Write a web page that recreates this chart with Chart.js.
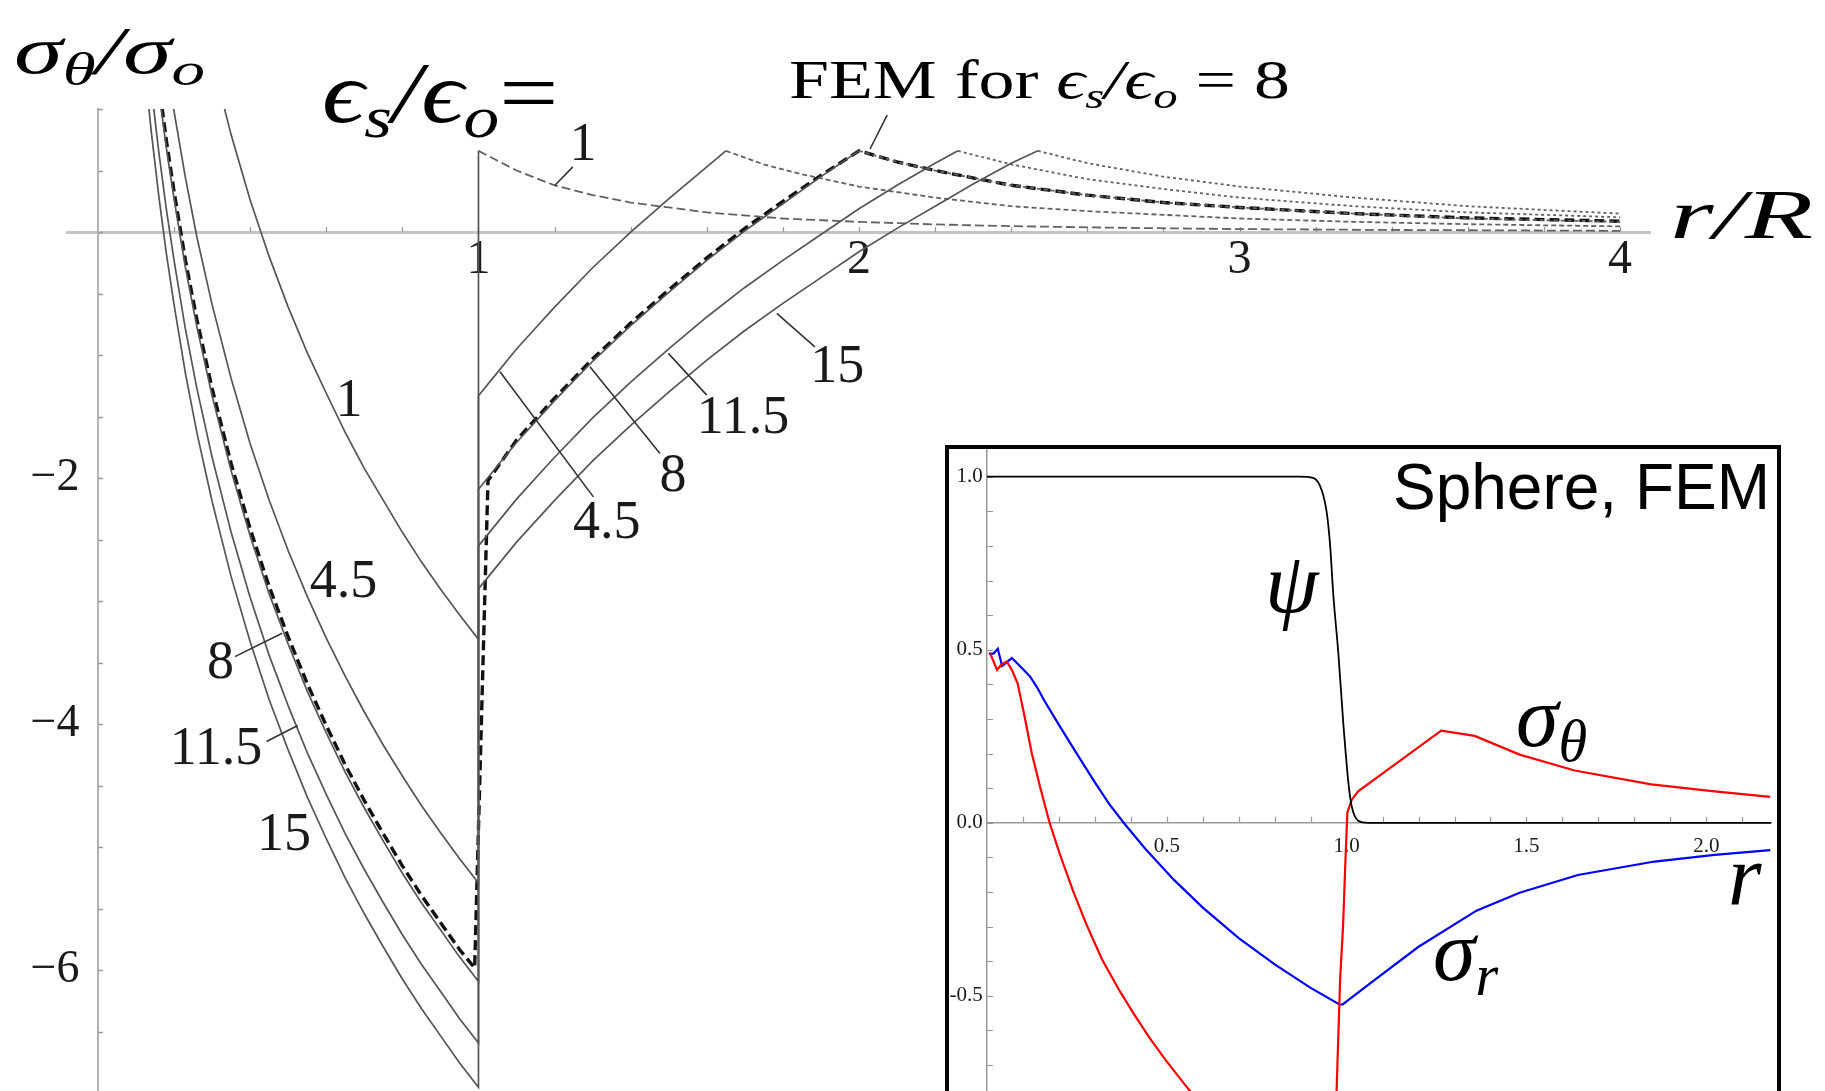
<!DOCTYPE html>
<html><head><meta charset="utf-8">
<script src="https://cdn.jsdelivr.net/npm/chart.js@4.4.1/dist/chart.umd.min.js"></script>
<style>
html,body{margin:0;padding:0;background:#fff;}
body{position:relative;width:1825px;height:1091px;overflow:hidden;}
#main{position:absolute;left:0;top:0;}
#insetBox{position:absolute;left:945px;top:445px;width:828px;height:700px;border:4px solid #000;background:#fff;}
#inset{position:absolute;left:0;top:0;}
.m{position:absolute;font-family:"Liberation Serif","DejaVu Serif",serif;font-style:italic;color:#000;white-space:nowrap;line-height:1;transform-origin:0 0;}
.m sub{font-size:0.68em;vertical-align:baseline;position:relative;top:0.26em;}
.rm{font-style:normal;}
.sans{position:absolute;font-family:"Liberation Sans",Arial,sans-serif;color:#000;white-space:nowrap;line-height:1;}
</style></head>
<body>
<canvas id="main" width="1825" height="1091"></canvas>
<div id="insetBox"><canvas id="inset" width="828" height="642"></canvas></div>

<div class="m" style="left:14px;top:16px;font-size:68px;transform:scaleX(1.45)">σ<sub>θ</sub>/σ<sub>o</sub></div>
<div class="m" style="left:322px;top:50px;font-size:86px;transform:scaleX(1.22)">ϵ<sub>s</sub>/ϵ<sub>o</sub><span class="rm">=</span></div>
<div class="m" style="left:789px;top:53px;font-size:54px;transform:scaleX(1.33)"><span class="rm">FEM for </span>ϵ<sub>s</sub>/ϵ<sub>o</sub><span class="rm"> = 8</span></div>
<div class="m" style="left:1670px;top:180px;font-size:70px;transform:scaleX(1.6)">r/R</div>

<div class="sans" style="right:55px;top:455px;font-size:64px;">Sphere, FEM</div>
<div class="m" style="left:1265px;top:540px;font-size:86px;">ψ</div>
<div class="m" style="left:1516px;top:674px;font-size:86px;">σ<sub>θ</sub></div>
<div class="m" style="left:1433px;top:908px;font-size:86px;">σ<sub>r</sub></div>
<div class="m" style="left:1728px;top:833px;font-size:86px;">r</div>

<script>
// ---------------- main chart data (r/R, sigma_theta/sigma_o) ----------------
const rInner   = [0.12,0.14,0.16,0.18,0.20,0.23,0.26,0.30,0.35,0.40,0.45,0.50,0.55,0.60,0.65,0.70,0.75,0.80,0.85,0.90,0.95,1.00];
const inner_1   = [null,null,null,null,null,null,null,1.40,0.79,0.26,-0.20,-0.61,-0.98,-1.31,-1.63,-1.92,-2.18,-2.44,-2.68,-2.90,-3.11,-3.31];
const inner_4_5 = [null,null,1.85,1.39,0.98,0.44,-0.04,-0.59,-1.19,-1.72,-2.18,-2.59,-2.96,-3.30,-3.61,-3.90,-4.17,-4.42,-4.66,-4.88,-5.09,-5.29];
const inner_8   = [null,1.68,1.15,0.68,0.27,-0.29,-0.77,-1.33,-1.94,-2.47,-2.94,-3.35,-3.73,-4.07,-4.39,-4.68,-4.95,-5.21,-5.45,-5.67,-5.89,-6.09];
const inner_11_5= [1.79,1.18,0.65,0.18,-0.23,-0.79,-1.27,-1.83,-2.44,-2.97,-3.44,-3.85,-4.23,-4.57,-4.89,-5.18,-5.45,-5.71,-5.95,-6.17,-6.39,-6.59];
const inner_15  = [1.43,0.82,0.29,-0.18,-0.59,-1.15,-1.63,-2.19,-2.80,-3.33,-3.80,-4.21,-4.59,-4.93,-5.25,-5.54,-5.81,-6.07,-6.31,-6.53,-6.75,-6.95];

const rRise_4_5  = [1.00,1.05,1.10,1.15,1.20,1.30,1.40,1.50,1.60,1.65];
const rise_4_5   = [-1.33,-1.14,-0.95,-0.78,-0.61,-0.29,0.00,0.27,0.53,0.66];
const rRise_8    = [1.0,1.1,1.2,1.3,1.4,1.5,1.6,1.7,1.8,1.9,2.0];
const rise_8     = [-2.09,-1.71,-1.37,-1.05,-0.76,-0.49,-0.23,0.01,0.23,0.45,0.66];
const rRise_11_5 = [1.0,1.1,1.2,1.3,1.4,1.5,1.6,1.7,1.8,1.9,2.0,2.1,2.2,2.26];
const rise_11_5  = [-2.55,-2.17,-1.83,-1.51,-1.22,-0.95,-0.69,-0.45,-0.23,-0.02,0.19,0.38,0.56,0.66];
const rRise_15   = [1.0,1.1,1.2,1.3,1.4,1.5,1.6,1.7,1.8,1.9,2.0,2.1,2.2,2.3,2.4,2.47];
const rise_15    = [-2.90,-2.52,-2.18,-1.86,-1.57,-1.30,-1.04,-0.80,-0.58,-0.37,-0.16,0.03,0.21,0.39,0.56,0.66];

const rTail_1    = [1.0,1.1,1.2,1.3,1.4,1.5,1.6,1.8,2.0,2.2,2.4,2.7,3.0,3.4,4.0];
const tail_1     = [0.66,0.50,0.38,0.30,0.24,0.20,0.16,0.11,0.083,0.062,0.048,0.034,0.024,0.017,0.010];
const rTail_4_5  = [1.65,1.75,1.85,2.0,2.2,2.4,2.6,2.8,3.0,3.3,3.6,4.0];
const tail_4_5   = [0.66,0.55,0.47,0.37,0.28,0.21,0.17,0.14,0.11,0.083,0.064,0.046];
const rTail_8    = [2.0,2.1,2.2,2.4,2.6,2.8,3.0,3.3,3.6,4.0];
const tail_8     = [0.66,0.57,0.50,0.38,0.30,0.24,0.20,0.15,0.11,0.083];
const rTail_11_5 = [2.26,2.4,2.6,2.8,3.0,3.3,3.6,4.0];
const tail_11_5  = [0.66,0.55,0.43,0.35,0.28,0.21,0.16,0.12];
const rTail_15   = [2.47,2.6,2.8,3.0,3.3,3.6,4.0];
const tail_15    = [0.66,0.56,0.45,0.37,0.28,0.21,0.15];

// FEM result for eps_s/eps_o = 8 (dashed)
const rFem = [0.14,0.16,0.18,0.20,0.23,0.26,0.30,0.35,0.40,0.45,0.50,0.55,0.60,0.65,0.70,0.75,0.80,0.85,0.90,0.95,0.99,1.025,1.1,1.2,1.3,1.4,1.5,1.6,1.7,1.8,1.9,2.0,2.1,2.2,2.4,2.6,2.8,3.0,3.3,3.6,4.0];
const fem  = [1.74,1.21,0.74,0.33,-0.23,-0.71,-1.27,-1.88,-2.41,-2.88,-3.29,-3.67,-4.01,-4.33,-4.62,-4.89,-5.15,-5.39,-5.61,-5.83,-5.98,-2.02,-1.69,-1.35,-1.03,-0.74,-0.47,-0.21,0.03,0.25,0.46,0.66,0.57,0.50,0.38,0.30,0.24,0.20,0.15,0.115,0.088];

const xTickValues = [1,2,3,4];
const xTickLabels = ['1','2','3','4'];
const yTickValues = [-2,-4,-6];
const yTickLabels = ['\u22122','\u22124','\u22126'];

// ---------------- inset data (Sphere, FEM) ----------------
const rPsi = [0,0.3,0.6,0.866,0.908,0.931,0.945,0.954,0.963,0.977,0.991,1.005,1.014,1.032,1.06,1.5,2.18];
const psi  = [1,1,1,1,0.996,0.96,0.894,0.803,0.658,0.489,0.284,0.115,0.048,0.006,0,0,0];
const rSigTheta = [0.009,0.028,0.039,0.055,0.069,0.085,0.102,0.125,0.148,0.174,0.203,0.240,0.277,0.320,0.370,0.410,0.453,0.500,0.559,0.65,0.80,0.92,0.965,0.972,0.982,0.990,0.997,1.002,1.014,1.032,1.143,1.263,1.356,1.481,1.634,1.847,2.023,2.178];
const sigTheta  = [0.489,0.442,0.456,0.466,0.442,0.403,0.320,0.199,0.102,0.0,-0.092,-0.199,-0.295,-0.395,-0.488,-0.555,-0.623,-0.690,-0.768,-0.88,-1.05,-1.17,-1.2,-0.777,-0.45,-0.30,-0.10,0.03,0.066,0.091,0.175,0.266,0.251,0.197,0.151,0.111,0.091,0.075];
const rSigR = [0.005,0.018,0.030,0.042,0.069,0.097,0.120,0.140,0.160,0.200,0.250,0.300,0.340,0.380,0.440,0.520,0.600,0.700,0.800,0.900,0.980,0.989,1.079,1.199,1.361,1.481,1.643,1.856,2.023,2.178];
const sigR  = [0.489,0.489,0.503,0.453,0.476,0.447,0.422,0.390,0.352,0.283,0.199,0.117,0.054,0.0,-0.075,-0.165,-0.245,-0.333,-0.409,-0.477,-0.525,-0.525,-0.453,-0.359,-0.254,-0.202,-0.151,-0.112,-0.093,-0.079];
const insetXTickValues = [0.5,1.0,1.5,2.0];
const insetXTickLabels = ['0.5','1.0','1.5','2.0'];
const insetYTickValues = [1.0,0.5,0.0,-0.5];
const insetYTickLabels = ['1.0','0.5','0.0','-0.5'];

// ---------------- helpers ----------------
function pts(xs, ys){ const out=[]; xs.forEach((x,i)=>{ if(ys[i]!==null) out.push({x:x,y:ys[i]}); }); return out; }
function steps(a,b,s){ const out=[]; for(let v=a; v<=b+1e-9; v+=s) out.push(+v.toFixed(3)); return out; }

const SOLID = '#555555';
const TAIL = '#626262';
function solid(data){ return {data, borderColor:SOLID, borderWidth:1.7, pointRadius:0, showLine:true, tension:0}; }
function tail(data, dash){ return {data, borderColor:TAIL, borderWidth:1.8, borderDash:dash, pointRadius:0, showLine:true, tension:0}; }

const mainDatasets = [
  solid(pts(rInner, inner_1)),
  solid(pts(rInner, inner_4_5).concat(pts(rRise_4_5, rise_4_5))),
  solid(pts(rInner, inner_8).concat(pts(rRise_8, rise_8))),
  solid(pts(rInner, inner_11_5).concat(pts(rRise_11_5, rise_11_5))),
  solid(pts(rInner, inner_15).concat(pts(rRise_15, rise_15))),
  solid([{x:1,y:inner_1[inner_1.length-1]},{x:1,y:tail_1[0]}]),
  tail(pts(rTail_1, tail_1), [9,4]),
  tail(pts(rTail_4_5, tail_4_5), [5,3]),
  tail(pts(rTail_8, tail_8), [4,3]),
  tail(pts(rTail_11_5, tail_11_5), [3,3]),
  tail(pts(rTail_15, tail_15), [3,3]),
  {data: pts(rFem, fem), borderColor:'#111', borderWidth:3.4, borderDash:[10,5], pointRadius:0, showLine:true, tension:0}
];

// ---------------- plugins ----------------
const minorTicks = {
  id:'minorTicks',
  beforeDatasetsDraw(chart, args, o){
    const {ctx, scales:{x,y}} = chart;
    const x0 = x.getPixelForValue(0), y0 = y.getPixelForValue(0);
    ctx.save(); ctx.strokeStyle=o.color; ctx.lineWidth=o.width; ctx.beginPath();
    o.xTicks.forEach(v=>{ const px=Math.round(x.getPixelForValue(v))+0.5; ctx.moveTo(px,y0); ctx.lineTo(px,y0-o.len); });
    o.yTicks.forEach(v=>{ const py=Math.round(y.getPixelForValue(v))+0.5; ctx.moveTo(x0,py); ctx.lineTo(x0+o.len,py); });
    ctx.stroke(); ctx.restore();
  }
};
const curveNotes = {
  id:'curveNotes',
  afterDatasetsDraw(chart, args, o){
    if(!o.labels) return;
    const {ctx, scales:{x,y}} = chart;
    ctx.save();
    ctx.strokeStyle=o.lineColor; ctx.lineWidth=o.lineWidth; ctx.beginPath();
    o.leaders.forEach(l=>{ ctx.moveTo(x.getPixelForValue(l[0]), y.getPixelForValue(l[1])); ctx.lineTo(x.getPixelForValue(l[2]), y.getPixelForValue(l[3])); });
    ctx.stroke();
    ctx.fillStyle=o.color; ctx.font=o.font; ctx.textAlign='center'; ctx.textBaseline='middle';
    o.labels.forEach(l=>ctx.fillText(l.t, x.getPixelForValue(l.r), y.getPixelForValue(l.v)));
    ctx.restore();
  }
};

const curveLabels = [
  {t:'1', r:0.660, v:-1.38}, {t:'4.5', r:0.645, v:-2.85}, {t:'8', r:0.322, v:-3.51},
  {t:'11.5', r:0.310, v:-4.21}, {t:'15', r:0.489, v:-4.91},
  {t:'1', r:1.275, v:0.70}, {t:'4.5', r:1.337, v:-2.37}, {t:'8', r:1.511, v:-1.99},
  {t:'11.5', r:1.695, v:-1.52}, {t:'15', r:1.943, v:-1.10}
];
const curveLeaders = [
  [0.360,-3.45,0.484,-3.26], [0.443,-4.14,0.525,-4.01],
  [1.201,0.38,1.248,0.53], [1.0565,-1.136,1.302,-2.152], [1.293,-1.095,1.477,-1.80],
  [1.499,-0.986,1.600,-1.325], [1.784,-0.661,1.884,-0.933], [2.029,0.675,2.074,0.951]
];

function zeroFitX(s){ s.height=0; s.paddingLeft=0; s.paddingRight=0; s.paddingTop=0; s.paddingBottom=0; }
function zeroFitY(s){ s.width=0; s.paddingLeft=0; s.paddingRight=0; s.paddingTop=0; s.paddingBottom=0; }

new Chart(document.getElementById('main'), {
  type:'scatter',
  data:{datasets: mainDatasets},
  options:{
    responsive:false, animation:false, devicePixelRatio:1,
    layout:{padding:{left:67.5, right:174.5, top:109, bottom:0}},
    plugins:{
      legend:{display:false}, tooltip:{enabled:false},
      minorTicks:{color:'#9a9a9a', width:1.3, len:5, xTicks:steps(0.2,4,0.2), yTicks:steps(-6.5,1,0.5)},
      curveNotes:{labels:curveLabels, leaders:curveLeaders, color:'#1a1a1a', font:'54px "Liberation Serif", serif', lineColor:'#333', lineWidth:1.6}
    },
    scales:{
      x:{type:'linear', min:-0.08, max:4.08, position:{y:0},
         grid:{display:false, drawTicks:false}, border:{display:true, color:'#c4c4c4', width:3},
         afterFit: zeroFitX,
         afterBuildTicks: s=>{ s.ticks = xTickValues.map(v=>({value:v})); },
         ticks:{padding:0, color:'#1a1a1a', font:{family:'"Liberation Serif", serif', size:48},
                callback:(v,i)=>xTickLabels[i]}},
      y:{type:'linear', min:-6.98, max:1, position:{x:0},
         grid:{display:false, drawTicks:false}, border:{display:true, color:'#b4b4b4', width:2},
         afterFit: zeroFitY,
         afterBuildTicks: s=>{ s.ticks = yTickValues.map(v=>({value:v})); },
         ticks:{color:'#1a1a1a', font:{family:'"Liberation Serif", serif', size:46},
                callback:(v,i)=>yTickLabels[i]+'\u2009\u2009'}}
    }
  },
  plugins:[minorTicks, curveNotes]
});

new Chart(document.getElementById('inset'), {
  type:'scatter',
  data:{datasets:[
    {data:pts(rPsi,psi), borderColor:'#000', borderWidth:1.8, pointRadius:0, showLine:true, cubicInterpolationMode:'monotone'},
    {data:pts(rSigTheta,sigTheta), borderColor:'#ff0000', borderWidth:2.2, pointRadius:0, showLine:true, tension:0},
    {data:pts(rSigR,sigR), borderColor:'#0000ff', borderWidth:2.2, pointRadius:0, showLine:true, tension:0}
  ]},
  options:{
    responsive:false, animation:false, devicePixelRatio:1,
    layout:{padding:{left:38, right:6, top:0, bottom:0}},
    plugins:{
      legend:{display:false}, tooltip:{enabled:false},
      minorTicks:{color:'#999', width:1.2, len:6, xTicks:steps(0.1,2.1,0.1), yTicks:steps(-0.7,1.0,0.1)},
      curveNotes:{}
    },
    scales:{
      x:{type:'linear', min:0, max:2.18, position:{y:0},
         grid:{display:false, drawTicks:false}, border:{display:true, color:'#999', width:1.5},
         afterFit: zeroFitX,
         afterBuildTicks: s=>{ s.ticks = insetXTickValues.map(v=>({value:v})); },
         ticks:{padding:11, color:'#1a1a1a', font:{family:'"Liberation Serif", serif', size:21},
                callback:(v,i)=>insetXTickLabels[i]}},
      y:{type:'linear', min:-0.775, max:1.08, position:{x:0},
         grid:{display:false, drawTicks:false}, border:{display:true, color:'#999', width:1.5},
         afterFit: zeroFitY,
         afterBuildTicks: s=>{ s.ticks = insetYTickValues.map(v=>({value:v})); },
         ticks:{color:'#1a1a1a', font:{family:'"Liberation Serif", serif', size:21},
                callback:(v,i)=>insetYTickLabels[i]+'\u2009'}}
    }
  },
  plugins:[minorTicks, curveNotes]
});
</script>
</body></html>
